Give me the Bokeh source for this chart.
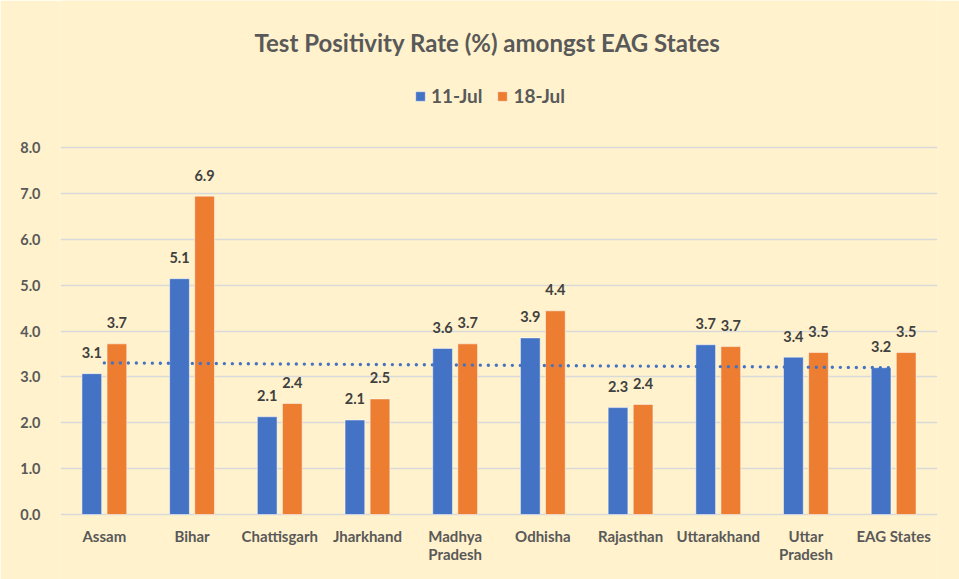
import numpy as np
from bokeh.plotting import figure
from bokeh.models import (ColumnDataSource, FactorRange, Legend, LegendItem,
                          LabelSet, Label, Range1d, FixedTicker,
                          CustomJSTickFormatter)
from bokeh.transform import dodge
from bokeh.embed import file_html
from bokeh.resources import INLINE
from bokeh.core.properties import value

# ---------------- data ----------------
categories = ["Assam", "Bihar", "Chattisgarh", "Jharkhand", "Madhya Pradesh",
              "Odhisha", "Rajasthan", "Uttarakhand", "Uttar Pradesh", "EAG States"]
label_line1 = ["Assam", "Bihar", "Chattisgarh", "Jharkhand", "Madhya",
               "Odhisha", "Rajasthan", "Uttarakhand", "Uttar", "EAG States"]
label_line2 = ["", "", "", "", "Pradesh", "", "", "", "Pradesh", ""]
jul11 = [3.07, 5.14, 2.13, 2.06, 3.62, 3.85, 2.33, 3.70, 3.43, 3.20]
jul18 = [3.72, 6.94, 2.42, 2.52, 3.72, 4.44, 2.40, 3.66, 3.53, 3.53]
series_names = ["11-Jul", "18-Jul"]
y_ticks = [0, 1, 2, 3, 4, 5, 6, 7, 8]
title_text = "Test Positivity Rate (%) amongst EAG States"

# ---------------- styles / layout ----------------
BG = "#FFF2CC"
BLUE = "#4472C4"
ORANGE = "#ED7D31"
GRID = "#D9D9D9"
TXT = "#595959"
LBL = "#404040"
FONT = "Lato"

W, H = 959, 579
ML, MR = 60, 22
FH = H                      # frame spans full height
TOP_PX, ZERO_PX = 147, 514  # pixel rows of the 8.0 and 0.0 gridlines
ppu = (ZERO_PX - TOP_PX) / 8.0
y_lo = -(H - ZERO_PX) / ppu
y_hi = 8 + TOP_PX / ppu

src = ColumnDataSource(dict(
    cat=categories,
    line1=label_line1,
    line2=label_line2,
    jul11=jul11,
    jul18=jul18,
    lab11=[f"{v:.1f}" for v in jul11],
    lab18=[f"{v:.1f}" for v in jul18],
))

p = figure(x_range=FactorRange(*categories), y_range=Range1d(y_lo, y_hi),
           width=W, height=H, output_backend="svg", toolbar_location=None,
           min_border_left=ML, min_border_right=MR, min_border_top=0,
           min_border_bottom=0, x_axis_location=None)
p.background_fill_color = BG
p.border_fill_color = BG
p.outline_line_color = None

off = 0.143
bw = 0.225
r1 = p.vbar(x=dodge("cat", -off, range=p.x_range), top="jul11", bottom=0,
            width=bw, source=src, fill_color=BLUE, line_color="#FFFFFF",
            line_alpha=0.5, line_width=1)
r2 = p.vbar(x=dodge("cat", off, range=p.x_range), top="jul18", bottom=0,
            width=bw, source=src, fill_color=ORANGE, line_color="#FFFFFF",
            line_alpha=0.5, line_width=1)

# linear trendline of the 11-Jul series
xs = np.arange(1, len(jul11) + 1)
slope, icpt = np.polyfit(xs, np.array(jul11), 1)
trend = slope * xs + icpt
p.line(x=categories, y=list(trend), line_color=BLUE, line_width=3.4,
       line_dash="0 8", line_cap="round")

# data labels
for col, lab, o in (("jul11", "lab11", -off), ("jul18", "lab18", off)):
    p.add_layout(LabelSet(x=dodge("cat", o, range=p.x_range), y=col, text=lab,
                          source=src, text_align="center", text_baseline="middle",
                          y_offset=21, text_font=value(FONT),
                          text_font_size="14.5px", text_font_style="bold",
                          text_color=LBL))

# category labels (each line centred)
for col, yo in (("line1", -21), ("line2", -39)):
    p.add_layout(LabelSet(x="cat", y=0, text=col, source=src,
                          text_align="center", text_baseline="middle",
                          y_offset=yo, text_font=value(FONT),
                          text_font_size="15px", text_font_style="bold",
                          text_color=TXT))

# y axis
p.yaxis.ticker = FixedTicker(ticks=y_ticks)
p.yaxis.formatter = CustomJSTickFormatter(code="return tick.toFixed(1);")
ax = p.yaxis[0]
ax.axis_line_color = None
ax.major_tick_line_color = None
ax.minor_tick_line_color = None
ax.major_label_text_font = FONT
ax.major_label_text_font_style = "bold"
ax.major_label_text_color = TXT
ax.major_label_text_font_size = "14.5px"
ax.major_label_standoff = 14
p.xgrid.grid_line_color = None
p.ygrid.grid_line_color = GRID
p.ygrid.grid_line_width = 1.5

# title
p.add_layout(Label(x=427, y=FH - 42, x_units="screen", y_units="screen",
                   text=title_text, text_align="center", text_baseline="middle",
                   text_font=FONT, text_font_size="24px", text_font_style="bold",
                   text_color=TXT))

# legend
legend = Legend(items=[LegendItem(label=series_names[0], renderers=[r1]),
                       LegendItem(label=series_names[1], renderers=[r2])],
                location=(354, FH - 107), orientation="horizontal")
legend.background_fill_alpha = 0
legend.border_line_color = None
legend.padding = 0
legend.margin = 0
legend.spacing = 14
legend.label_standoff = 5
legend.glyph_width = 12
legend.glyph_height = 12
legend.label_height = 20
legend.label_text_font = FONT
legend.label_text_font_size = "19px"
legend.label_text_font_style = "bold"
legend.label_text_color = TXT
p.add_layout(legend)

open("out.html", "w").write(file_html(p, INLINE))
